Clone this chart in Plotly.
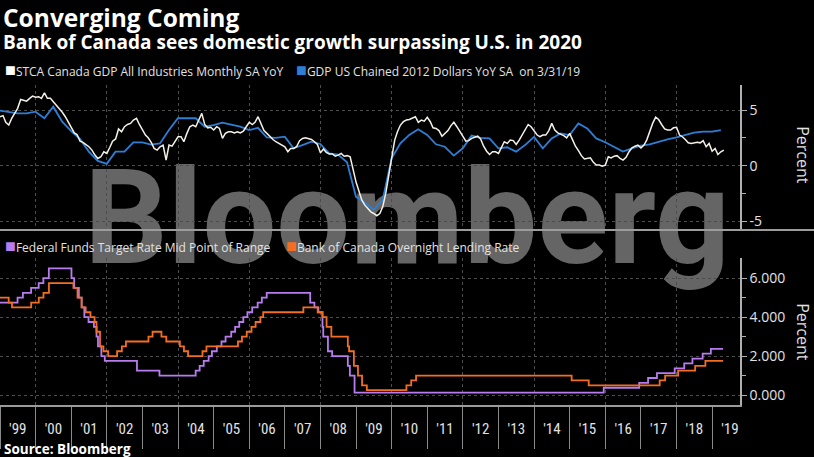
import pandas as pd
import plotly.graph_objects as go

# ---------------- data ----------------
# Canada monthly GDP YoY (%), monthly from Jan 1999
ca_start = "1999-01-01"
ca_gdp = [4.4, 4.5, 3.9, 3.66, 4.25, 4.7, 5.15, 5.95, 5.87, 5.8, 6.05, 6.25,
          6.15, 6.2, 6.05, 6.55, 6.05, 6.05, 5.75, 5.45, 5.1, 4.8, 4.4, 3.95,
          3.4, 2.95, 2.8, 2.2, 2.1, 1.9, 1.7, 1.4, 0.95, 0.65, 0.8, 1.25,
          1.1, 1.65, 2.2, 2.4, 3.3, 3.05, 3.5, 3.7, 3.8, 4.1, 4.25, 3.7,
          3.2, 2.75, 2.5, 2.1, 1.55, 1.4, 1.7, 1.85, 0.5, 1.85, 1.75, 2.15,
          2.6, 2.6, 2.15, 2.9, 3.5, 3.65, 3.5, 4.1, 4.7, 3.7, 3.4, 3.45,
          3.2, 3.5, 3.35, 2.45, 2.9, 3.05, 3.05, 2.95, 3.05, 2.95, 3.1, 3.5,
          3.9, 3.7, 3.9, 4.4, 3.7, 3.15, 2.9, 2.6, 2.35, 2.15, 2.0, 1.85,
          1.7, 1.25, 1.55, 1.55, 1.7, 2.25, 2.45, 2.5, 2.45, 2.35, 2.15, 1.9,
          1.15, 1.5, 1.2, 1.05, 1.05, 0.85, 0.95, 1.1, 0.85, 0.9, 0.8, -0.4,
          -1.5, -2.35, -3.1, -3.55, -3.9, -4.15, -4.3, -4.5, -4.3, -3.7, -2.5, -1.0,
          0.9, 2.3, 3.05, 3.65, 3.95, 4.1, 4.15, 4.25, 4.4, 3.9, 4.1, 4.0,
          4.35, 3.95, 3.4, 3.35, 3.15, 2.65, 2.9, 3.15, 3.6, 3.9, 3.5, 3.05,
          2.55, 2.2, 2.25, 2.45, 2.55, 2.65, 2.4, 1.75, 1.3, 1.0, 1.25, 1.25,
          1.1, 1.7, 2.15, 2.0, 2.3, 2.25, 1.9, 2.3, 2.75, 3.2, 3.7, 3.5,
          3.1, 2.75, 2.6, 2.75, 2.75, 3.15, 3.8, 3.2, 2.95, 2.85, 2.7, 2.5,
          2.9, 2.3, 1.75, 1.35, 0.9, 0.6, 0.65, 0.7, 0.3, 0.05, 0.05, -0.05,
          0.05, 0.8, 0.7, 0.85, 0.9, 0.65, 0.5, 0.75, 1.25, 1.6, 1.75, 1.85,
          1.6, 1.85, 2.3, 3.1, 3.8, 4.35, 4.15, 3.7, 3.3, 3.2, 3.2, 3.4,
          3.45, 2.75, 2.6, 2.35, 2.05, 2.0, 2.05, 2.1, 2.05, 2.25, 1.7, 2.0,
          1.3, 1.55, 1.0, 1.25, 1.4]

# US real GDP YoY (%), quarterly (quarter-end) from Q4 1998
us_start = "1998-12-31"
us_gdp = [4.95,
          4.85, 4.7, 4.7, 4.85,
          4.26, 5.3, 3.95, 3.1,
          2.4, 1.26, 0.43, 0.16,
          1.26, 1.26, 2.1, 2.1,
          1.9, 2.0, 3.2, 4.26,
          4.26, 4.26, 3.5, 3.65,
          3.87, 3.7, 3.5, 3.2,
          3.4, 2.55, 2.5, 2.6,
          1.56, 1.85, 2.16, 1.95,
          1.1, 1.0, 0.3, -2.8,
          -3.3, -3.97, -3.1, 0.66,
          2.0, 2.76, 3.27, 2.76,
          1.92, 1.7, 0.9, 1.56,
          2.7, 2.5, 2.45, 1.55,
          1.65, 1.26, 1.85, 2.6,
          1.55, 2.45, 2.9, 2.75,
          3.8, 3.35, 2.45, 2.1,
          1.65, 1.26, 1.55, 1.8,
          1.92, 2.16, 2.37, 2.55,
          2.76, 2.97, 3.06, 3.06,
          3.2]

# Federal Funds target rate (mid point of range), change dates and levels
fed_dates = ["1999-01-01", "1999-06-30", "1999-08-24", "1999-11-16", "2000-02-02", "2000-03-21",
             "2000-05-16", "2001-01-03", "2001-01-31", "2001-03-20", "2001-04-18", "2001-05-15",
             "2001-06-27", "2001-08-21", "2001-09-17", "2001-10-02", "2001-11-06", "2001-12-11",
             "2002-11-06", "2003-06-25", "2004-06-30", "2004-08-10", "2004-09-21", "2004-11-10",
             "2004-12-14", "2005-02-02", "2005-03-22", "2005-05-03", "2005-06-30", "2005-08-09",
             "2005-09-20", "2005-11-01", "2005-12-13", "2006-01-31", "2006-03-28", "2006-05-10",
             "2006-06-29", "2007-09-18", "2007-10-31", "2007-12-11", "2008-01-22", "2008-01-30",
             "2008-03-18", "2008-04-30", "2008-10-08", "2008-10-29", "2008-12-16", "2015-12-16",
             "2016-12-14", "2017-03-15", "2017-06-14", "2017-12-13", "2018-03-21", "2018-06-13",
             "2018-09-26", "2018-12-19", "2019-04-23"]
fed_rates = [4.75, 5.00, 5.25, 5.50, 5.75, 6.00,
             6.50, 6.00, 5.50, 5.00, 4.50, 4.00,
             3.75, 3.50, 3.00, 2.50, 2.00, 1.75,
             1.25, 1.00, 1.25, 1.50, 1.75, 2.00,
             2.25, 2.50, 2.75, 3.00, 3.25, 3.50,
             3.75, 4.00, 4.25, 4.50, 4.75, 5.00,
             5.25, 4.75, 4.50, 4.25, 3.50, 3.00,
             2.25, 2.00, 1.50, 1.00, 0.125, 0.375,
             0.625, 0.875, 1.125, 1.375, 1.625, 1.875,
             2.125, 2.375, 2.375]

# Bank of Canada overnight lending rate, change dates and levels
boc_dates = ["1999-01-01", "1999-03-31", "1999-05-04", "1999-11-17", "2000-02-03", "2000-03-22",
             "2000-05-17", "2001-01-23", "2001-03-06", "2001-04-17", "2001-05-29", "2001-07-17",
             "2001-08-28", "2001-09-17", "2001-10-23", "2001-11-27", "2002-01-15", "2002-04-16",
             "2002-06-04", "2002-07-16", "2003-03-04", "2003-04-15", "2003-07-15", "2003-09-03",
             "2004-01-20", "2004-03-02", "2004-04-13", "2004-09-08", "2004-10-19", "2005-09-07",
             "2005-10-18", "2005-12-06", "2006-01-24", "2006-03-07", "2006-04-25", "2006-05-24",
             "2007-07-10", "2007-12-04", "2008-01-22", "2008-03-04", "2008-04-22", "2008-10-08",
             "2008-10-21", "2008-12-09", "2009-01-20", "2009-03-03", "2009-04-21", "2010-06-01",
             "2010-07-20", "2010-09-08", "2015-01-21", "2015-07-15", "2017-07-12", "2017-09-06",
             "2018-01-17", "2018-07-11", "2018-10-24", "2019-04-23"]
boc_rates = [5.00, 4.75, 4.50, 4.75, 5.00, 5.25,
             5.75, 5.50, 5.00, 4.50, 4.25, 4.00,
             3.75, 3.25, 2.50, 2.25, 2.00, 2.25,
             2.50, 2.75, 3.00, 3.25, 3.00, 2.75,
             2.50, 2.25, 2.00, 2.25, 2.50, 2.75,
             3.00, 3.25, 3.50, 3.75, 4.00, 4.25,
             4.50, 4.25, 4.00, 3.50, 3.00, 2.50,
             2.25, 1.50, 1.00, 0.50, 0.25, 0.50,
             0.75, 1.00, 0.75, 0.50, 0.75, 1.00,
             1.25, 1.50, 1.75, 1.75]

top_tickvals = [-5, 0, 5]
top_ticktext = ["-5", "0", "5"]
bot_tickvals = [0, 2, 4, 6]
bot_ticktext = ["0.000", "2.000", "4.000", "6.000"]

x_range = ["1999-01-01", "2019-10-14"]
top_range = [-5.78, 7.25]
bot_range = [-0.51, 7.03]

ca_dates = pd.date_range(ca_start, periods=len(ca_gdp), freq="MS")
us_dates = pd.date_range(us_start, periods=len(us_gdp), freq="QE")

# ---------------- figure ----------------
WHITE = "#f4f1e8"
BLUE = "#2d7fd6"
PURPLE = "#b87cf0"
ORANGE = "#f36e22"
AXC = "#b0b0b0"
GRIDC = "#4d4d4d"
TXT = "#e2e2e2"
FONT = "Open Sans"

fig = go.Figure()
fig.add_trace(go.Scatter(x=us_dates, y=us_gdp, mode="lines", xaxis="x", yaxis="y",
                         line=dict(color=BLUE, width=1.8), hoverinfo="skip"))
fig.add_trace(go.Scatter(x=ca_dates, y=ca_gdp, mode="lines", xaxis="x", yaxis="y",
                         line=dict(color=WHITE, width=1.5), hoverinfo="skip"))
fig.add_trace(go.Scatter(x=pd.to_datetime(fed_dates), y=fed_rates, mode="lines", xaxis="x2", yaxis="y2",
                         line=dict(color=PURPLE, width=1.8, shape="hv"), hoverinfo="skip"))
fig.add_trace(go.Scatter(x=pd.to_datetime(boc_dates), y=boc_rates, mode="lines", xaxis="x2", yaxis="y2",
                         line=dict(color=ORANGE, width=1.8, shape="hv"), hoverinfo="skip"))
# empty traces so the grid-only overlay axes get drawn
fig.add_trace(go.Scatter(x=[None], y=[None], xaxis="x3", yaxis="y", hoverinfo="skip"))
fig.add_trace(go.Scatter(x=[None], y=[None], xaxis="x4", yaxis="y2", hoverinfo="skip"))

grid_axis = dict(type="date", dtick="M24", tick0="2000-01-01", showgrid=True, gridcolor=GRIDC,
                 griddash="dot", gridwidth=1, showticklabels=False, ticks="", showline=False,
                 zeroline=False, matches="x")

fig.update_layout(
    width=814, height=457,
    margin=dict(l=0, r=74, t=85, b=52),
    paper_bgcolor="black", plot_bgcolor="rgba(0,0,0,0)",
    showlegend=False,
    xaxis=dict(type="date", domain=[0, 1], anchor="y", range=x_range, showgrid=False,
               showticklabels=False, ticks="", showline=False, zeroline=False),
    xaxis2=dict(type="date", domain=[0, 1], anchor="y2", matches="x", showgrid=False,
                showline=True, linecolor="#9a9a9a", linewidth=1.5,
                ticks="outside", ticklen=42, tickwidth=1, tickcolor="#8a8a8a",
                dtick="M12", tick0="1999-01-01", tickformat="'%y", ticklabelmode="period",
                ticklabelstandoff=-33,
                tickfont=dict(family="Liberation Sans Narrow, Arial Narrow, Roboto Condensed, sans-serif",
                              size=15, color=TXT)),
    xaxis3=dict(overlaying="x", anchor="y", **grid_axis),
    xaxis4=dict(overlaying="x2", anchor="y2", **grid_axis),
    yaxis=dict(domain=[0.547, 1], anchor="x", side="right", range=top_range,
               tickvals=top_tickvals, ticktext=top_ticktext,
               showgrid=True, gridcolor=GRIDC, griddash="dot", zeroline=False,
               showline=True, linecolor=AXC, linewidth=1.5,
               ticks="outside", ticklen=5, tickcolor=AXC,
               minor=dict(tickvals=[-2.5, 2.5], ticks="outside", ticklen=4, tickcolor=AXC, showgrid=False),
               tickfont=dict(family=FONT, size=14, color=TXT)),
    yaxis2=dict(domain=[0, 0.459], anchor="x2", side="right", range=bot_range,
                tickvals=bot_tickvals, ticktext=bot_ticktext,
                showgrid=True, gridcolor=GRIDC, griddash="dot", zeroline=False,
                showline=True, linecolor=AXC, linewidth=1.5,
                ticks="outside", ticklen=5, tickcolor=AXC,
                minor=dict(tickvals=[1, 3, 5], ticks="outside", ticklen=4, tickcolor=AXC, showgrid=False),
                tickfont=dict(family=FONT, size=14, color=TXT)),
)

# watermark (below the data)
fig.add_shape(type="rect", xref="paper", yref="paper", x0=0.05, x1=1.05, y0=0.478, y1=0.748,
              line=dict(width=0), fillcolor="rgba(0,0,0,0)", layer="below",
              label=dict(text="Bloomberg", textposition="middle center",
                         font=dict(family="Roboto", size=131, color="#656565", weight="bold")))

# panel separator
fig.add_shape(type="line", xref="paper", yref="paper", x0=0, x1=1.1, y0=0.547, y1=0.547,
              line=dict(color="#9c9c9c", width=2))


def ann(text, x, y, size, color="white", bold=False, xanchor="left", angle=0, family=FONT,
        yanchor="middle"):
    fig.add_annotation(text=f"<b>{text}</b>" if bold else text, x=x, y=y, xref="paper", yref="paper",
                       xanchor=xanchor, yanchor=yanchor, showarrow=False, textangle=angle,
                       borderpad=0, font=dict(family=family, size=size, color=color))


def sq(color):
    return f"<span style='color:{color};font-size:18px'>■</span>"


ann("Converging Coming", 0.003, 1.2656, 24.5, bold=True, yanchor="top")
ann("Bank of Canada sees domestic growth surpassing U.S. in 2020", 0.003, 1.135, 19, bold=True)

ann(sq("#ffffff") + "STCA Canada GDP All Industries Monthly SA YoY", 0.006, 1.05, 12, color=TXT)
ann(sq(BLUE) + "GDP US Chained 2012 Dollars YoY SA  on 3/31/19", 0.399, 1.05, 12, color=TXT)
ann(sq(PURPLE) + "Federal Funds Target Rate Mid Point of Range", 0.006, 0.5, 12, color=TXT)
ann(sq(ORANGE) + "Bank of Canada Overnight Lending Rate", 0.385, 0.5, 12, color=TXT)

ann("Percent", 1.085, 0.781, 16, color=TXT, xanchor="center", angle=90)
ann("Percent", 1.085, 0.228, 16, color=TXT, xanchor="center", angle=90)

ann("Source: Bloomberg", 0.004, -0.1375, 13.5, bold=True)

fig.write_html("out.html")
